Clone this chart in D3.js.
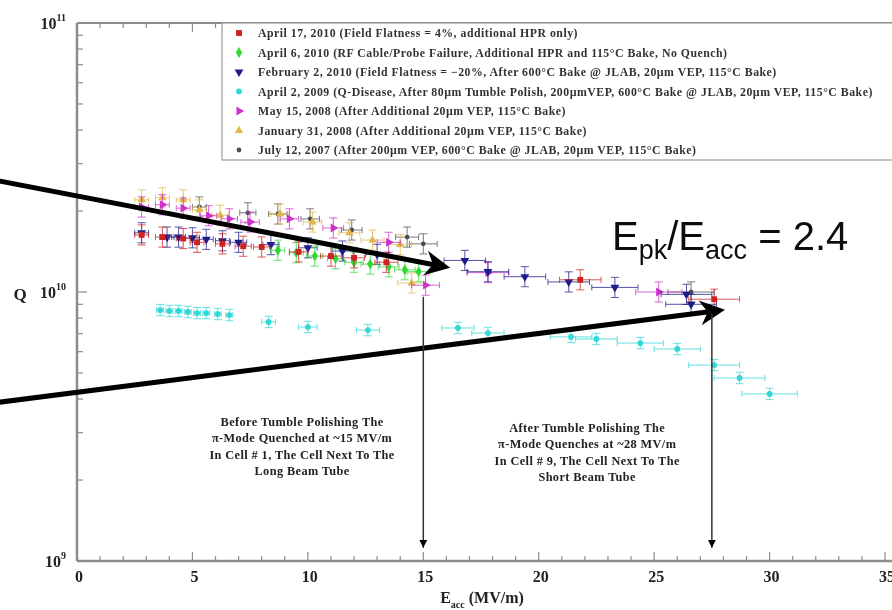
<!DOCTYPE html>
<html><head><meta charset="utf-8">
<script src="https://cdn.jsdelivr.net/npm/d3@7"></script>
<style>body{margin:0;background:#fff}svg{display:block}</style>
</head><body>
<script>
// ---- data (Q in units of 1e10) ----
const seriesNames = [
  "April 17, 2010 (Field Flatness = 4%, additional HPR only)",
  "April 6, 2010 (RF Cable/Probe Failure, Additional HPR and 115°C Bake, No Quench)",
  "February 2, 2010 (Field Flatness = −20%, After 600°C Bake @ JLAB, 20µm VEP, 115°C Bake)",
  "April 2, 2009 (Q-Disease, After 80µm Tumble Polish, 200µmVEP, 600°C Bake @ JLAB, 20µm VEP, 115°C Bake)",
  "May 15, 2008 (After Additional 20µm VEP, 115°C Bake)",
  "January 31, 2008 (After Additional 20µm VEP, 115°C Bake)",
  "July 12, 2007 (After 200µm VEP, 600°C Bake @ JLAB, 20µm VEP, 115°C Bake)"
];
const redE = [2.8,3.7,4.6,5.2,6.3,7.2,8.0,9.6,11.0,12.0,13.4,21.8,27.6];
const redQ = [1.63,1.60,1.58,1.53,1.51,1.48,1.47,1.41,1.36,1.34,1.29,1.11,0.94];
const redXErr = [0.3,0.3,0.3,0.3,0.3,0.35,0.35,0.4,0.45,0.45,0.5,0.9,1.1];
const greenE = [8.7,9.5,10.3,11.2,12.0,12.7,13.5,14.2,14.8];
const greenQ = [1.43,1.40,1.36,1.33,1.29,1.27,1.24,1.21,1.19];
const greenXErr = [0.3,0.3,0.35,0.35,0.4,0.4,0.45,0.45,0.5];
const navyE = [2.8,3.9,4.4,5.0,5.6,6.3,7.0,8.4,10.0,11.5,13.0,16.8,17.8,19.4,21.3,23.3,26.4,26.6];
const navyQ = [1.66,1.60,1.60,1.59,1.57,1.55,1.53,1.50,1.46,1.42,1.38,1.31,1.19,1.14,1.09,1.04,0.98,0.90];
const navyXErr = [0.3,0.3,0.3,0.3,0.3,0.3,0.35,0.35,0.4,0.45,0.5,0.9,0.9,0.9,0.9,1.0,1.1,1.1];
const cyanE = [3.6,4.0,4.4,4.8,5.2,5.6,6.1,6.6,8.3,10.0,12.6,16.5,17.8,21.4,22.5,24.4,26.0,27.6,28.7,30.0];
const cyanQ = [0.857,0.850,0.850,0.843,0.835,0.835,0.828,0.821,0.774,0.741,0.722,0.735,0.704,0.681,0.669,0.646,0.614,0.535,0.479,0.418];
const cyanXErr = [0.15,0.15,0.15,0.15,0.15,0.15,0.15,0.15,0.3,0.4,0.5,0.7,0.7,0.9,0.9,1.0,1.0,1.1,1.1,1.2];
const magE = [2.8,3.7,4.6,5.7,6.6,7.5,9.2,11.1,13.5,15.1,17.8,25.2];
const magQ = [2.07,2.11,2.05,1.92,1.87,1.82,1.87,1.73,1.53,1.06,1.18,1.00];
const magXErr = [0.3,0.3,0.3,0.35,0.35,0.4,0.4,0.45,0.5,0.6,0.9,1.0];
const orgE = [2.8,3.7,4.6,5.3,6.2,8.8,10.2,11.8,12.8,14.0,14.5];
const orgQ = [2.20,2.24,2.20,2.02,1.93,1.95,1.82,1.66,1.56,1.50,1.08];
const orgXErr = [0.3,0.3,0.3,0.3,0.35,0.4,0.4,0.45,0.5,0.5,0.6];
const grayE = [5.3,7.4,8.7,10.1,11.9,14.3,15.0,26.6];
const grayQ = [2.07,1.97,1.95,1.87,1.70,1.60,1.51,1.00];
const grayXErr = [0.3,0.35,0.4,0.4,0.45,0.5,0.6,1.0];
const seriesColors = ["#cc2020","#30d830","#1c1c88","#30d8d8","#cc30cc","#e0b848","#505050"];
const seriesYErr = [0.09,0.09,0.09,0.05,0.09,0.09,0.09];
const xTicks = [0,5,10,15,20,25,30,35];
const yDecades = [9,10,11];

// ---- layout ----
const W=892,H=610;
const svg=d3.select("body").append("svg").attr("width",W).attr("height",H);
const x=d3.scaleLinear().domain([0,35]).range([77,885]);
const y=d3.scaleLog().domain([1e9,1e11]).range([561,23]);
const serif="'Liberation Serif','Times New Roman',serif";

const defs=svg.append("defs");
defs.append("filter").attr("id","soft").append("feGaussianBlur").attr("stdDeviation",0.5);
defs.append("marker").attr("id","bigArrow").attr("viewBox","0 0 10 10").attr("refX",6).attr("refY",5)
  .attr("markerWidth",6).attr("markerHeight",5).attr("markerUnits","strokeWidth").attr("orient","auto")
  .append("path").attr("d","M0,0 L10,5 L0,10 L3,5 Z").attr("fill","#000");
defs.append("marker").attr("id","smallArrow").attr("viewBox","0 0 10 10").attr("refX",10).attr("refY",5)
  .attr("markerWidth",8).attr("markerHeight",12).attr("markerUnits","userSpaceOnUse").attr("orient","auto")
  .append("path").attr("d","M0,0 L10,5 L0,10 Z").attr("fill","#000");

const g=svg.append("g").attr("filter","url(#soft)");

// axes
const axisCol="#8c8c8c";
g.append("line").attr("x1",77).attr("x2",892).attr("y1",561).attr("y2",561).attr("stroke",axisCol).attr("stroke-width",2.5);
g.append("line").attr("x1",77).attr("x2",892).attr("y1",23).attr("y2",23).attr("stroke",axisCol).attr("stroke-width",2);
g.append("line").attr("x1",77).attr("x2",77).attr("y1",23).attr("y2",561).attr("stroke",axisCol).attr("stroke-width",2.5);
d3.range(0,36,1).forEach(v=>{
  const L = v%5===0?9:5;
  g.append("line").attr("x1",x(v)).attr("x2",x(v)).attr("y1",561).attr("y2",561-L).attr("stroke",axisCol).attr("stroke-width",1.2);
  g.append("line").attr("x1",x(v)).attr("x2",x(v)).attr("y1",23).attr("y2",23+L).attr("stroke",axisCol).attr("stroke-width",1.2);
});
g.selectAll(".xl").data(xTicks).enter().append("text").attr("x",d=>x(d)+2).attr("y",582)
  .attr("text-anchor","middle").attr("font-family",serif).attr("font-weight","bold").attr("font-size",16).attr("fill","#222").text(d=>d);
yDecades.forEach((dcd,i)=>{
  g.append("line").attr("x1",77).attr("x2",87).attr("y1",y(Math.pow(10,dcd))).attr("y2",y(Math.pow(10,dcd))).attr("stroke",axisCol).attr("stroke-width",1.2);
  if(i<yDecades.length-1){
    for(let m=2;m<10;m++){
      const yy=y(m*Math.pow(10,dcd));
      g.append("line").attr("x1",77).attr("x2",83).attr("y1",yy).attr("y2",yy).attr("stroke",axisCol).attr("stroke-width",1.2);
    }
  }
  const t=g.append("text").attr("x",66).attr("y",y(Math.pow(10,dcd))+6).attr("text-anchor","end")
    .attr("font-family",serif).attr("font-weight","bold").attr("font-size",16).attr("fill","#222");
  t.append("tspan").text("10");
  t.append("tspan").attr("dy",-8).attr("font-size",10).text(dcd);
});
g.append("text").attr("x",20).attr("y",y(1e10)+8).attr("text-anchor","middle").attr("font-family",serif)
  .attr("font-weight","bold").attr("font-size",17).attr("fill","#222").text("Q");
const xl=g.append("text").attr("x",482).attr("y",603).attr("text-anchor","middle").attr("font-family",serif)
  .attr("font-weight","bold").attr("font-size",16).attr("fill","#222");
xl.append("tspan").text("E");
xl.append("tspan").attr("dy",5).attr("font-size",10).text("acc");
xl.append("tspan").attr("dy",-5).text(" (MV/m)");

// series
const sym = [
  {t:d3.symbolSquare,s:34,r:0},{t:d3.symbolDiamond,s:34,r:0},{t:d3.symbolTriangle,s:34,r:180},
  {t:d3.symbolCircle,s:26,r:0},{t:d3.symbolTriangle,s:34,r:90},{t:d3.symbolTriangle,s:30,r:0},{t:d3.symbolCircle,s:18,r:0}
];
const allE=[redE,greenE,navyE,cyanE,magE,orgE,grayE];
const allQ=[redQ,greenQ,navyQ,cyanQ,magQ,orgQ,grayQ];
const allXE=[redXErr,greenXErr,navyXErr,cyanXErr,magXErr,orgXErr,grayXErr];
const order=[6,5,4,3,2,1,0];
order.forEach(si=>{
  const col=seriesColors[si];
  const pts=allE[si].map((e,i)=>({e,q:allQ[si][i]*1e10,xe:allXE[si][i]}));
  const sg=g.append("g");
  pts.forEach(p=>{
    const cx=x(p.e), cy=y(p.q);
    const y1=y(p.q*(1+seriesYErr[si])), y2=y(p.q/(1+seriesYErr[si]));
    const x1=x(p.e-p.xe), x2=x(p.e+p.xe);
    const eb=sg.append("g").attr("stroke",col).attr("stroke-width",1).attr("opacity",0.75);
    eb.append("line").attr("x1",x1).attr("x2",x2).attr("y1",cy).attr("y2",cy);
    eb.append("line").attr("x1",x1).attr("x2",x1).attr("y1",cy-3).attr("y2",cy+3);
    eb.append("line").attr("x1",x2).attr("x2",x2).attr("y1",cy-3).attr("y2",cy+3);
    eb.append("line").attr("x1",cx).attr("x2",cx).attr("y1",y1).attr("y2",y2);
    eb.append("line").attr("x1",cx-4).attr("x2",cx+4).attr("y1",y1).attr("y2",y1);
    eb.append("line").attr("x1",cx-4).attr("x2",cx+4).attr("y1",y2).attr("y2",y2);
  });
  sg.selectAll("path.m").data(pts).enter().append("path")
    .attr("d",d3.symbol(sym[si].t,sym[si].s))
    .attr("transform",p=>`translate(${x(p.e)},${y(p.q)}) rotate(${sym[si].r})`)
    .attr("fill",col);
});

// legend
const lg=g.append("g");
lg.append("rect").attr("x",222).attr("y",23).attr("width",680).attr("height",137).attr("fill","#fff").attr("stroke","#9a9a9a").attr("stroke-width",1.2);
seriesNames.forEach((nm,i)=>{
  const ly=33+i*19.5;
  lg.append("path").attr("d",d3.symbol(sym[i].t,sym[i].s)).attr("transform",`translate(239,${ly}) rotate(${sym[i].r})`).attr("fill",seriesColors[i]);
  lg.append("text").attr("x",258).attr("y",ly+4).attr("font-family",serif).attr("font-weight","bold").attr("font-size",11.8)
    .attr("letter-spacing",0.5).attr("fill","#333").text(nm);
});

// big annotation
const ep=g.append("text").attr("x",612).attr("y",250).attr("font-family","'Liberation Sans',Arial,sans-serif").attr("font-size",40).attr("fill","#111");
ep.append("tspan").text("E");
ep.append("tspan").attr("dy",9).attr("font-size",27).text("pk");
ep.append("tspan").attr("dy",-9).text("/E");
ep.append("tspan").attr("dy",9).attr("font-size",27).text("acc");
ep.append("tspan").attr("dy",-9).text(" = 2.4");

// thick arrows
const arrows=[{e0:-3.6,q0:2.61e10,e1:16.0,q1:1.25e10},{e0:-3.6,q0:0.387e10,e1:27.9,q1:0.85e10}];
arrows.forEach(a=>{
  g.append("line").attr("x1",x(a.e0)).attr("y1",y(a.q0)).attr("x2",x(a.e1)-6).attr("y2",y(a.q1))
    .attr("stroke","#000").attr("stroke-width",5).attr("marker-end","url(#bigArrow)");
});
const vArrows=[{e:15,q0:0.96e10},{e:27.5,q0:0.83e10}];
vArrows.forEach(a=>{
  g.append("line").attr("x1",x(a.e)).attr("x2",x(a.e)).attr("y1",y(a.q0)).attr("y2",y(1.12e9))
    .attr("stroke","#333").attr("stroke-width",1.5).attr("marker-end","url(#smallArrow)");
});
const note1=["Before Tumble Polishing The","π-Mode Quenched at ~15 MV/m","In Cell # 1, The Cell Next To The","Long Beam Tube"];
const note2=["After Tumble Polishing The","π-Mode Quenches at ~28 MV/m","In Cell # 9, The Cell Next To The","Short Beam Tube"];
[[note1,9.75,426],[note2,22.1,432]].forEach(([lines,e,y0])=>{
  lines.forEach((t,i)=>g.append("text").attr("x",x(e)).attr("y",y0+i*16.3).attr("text-anchor","middle")
    .attr("font-family",serif).attr("font-weight","bold").attr("font-size",12.3).attr("letter-spacing",0.4).attr("fill","#222").text(t));
});
</script>
</body></html>
